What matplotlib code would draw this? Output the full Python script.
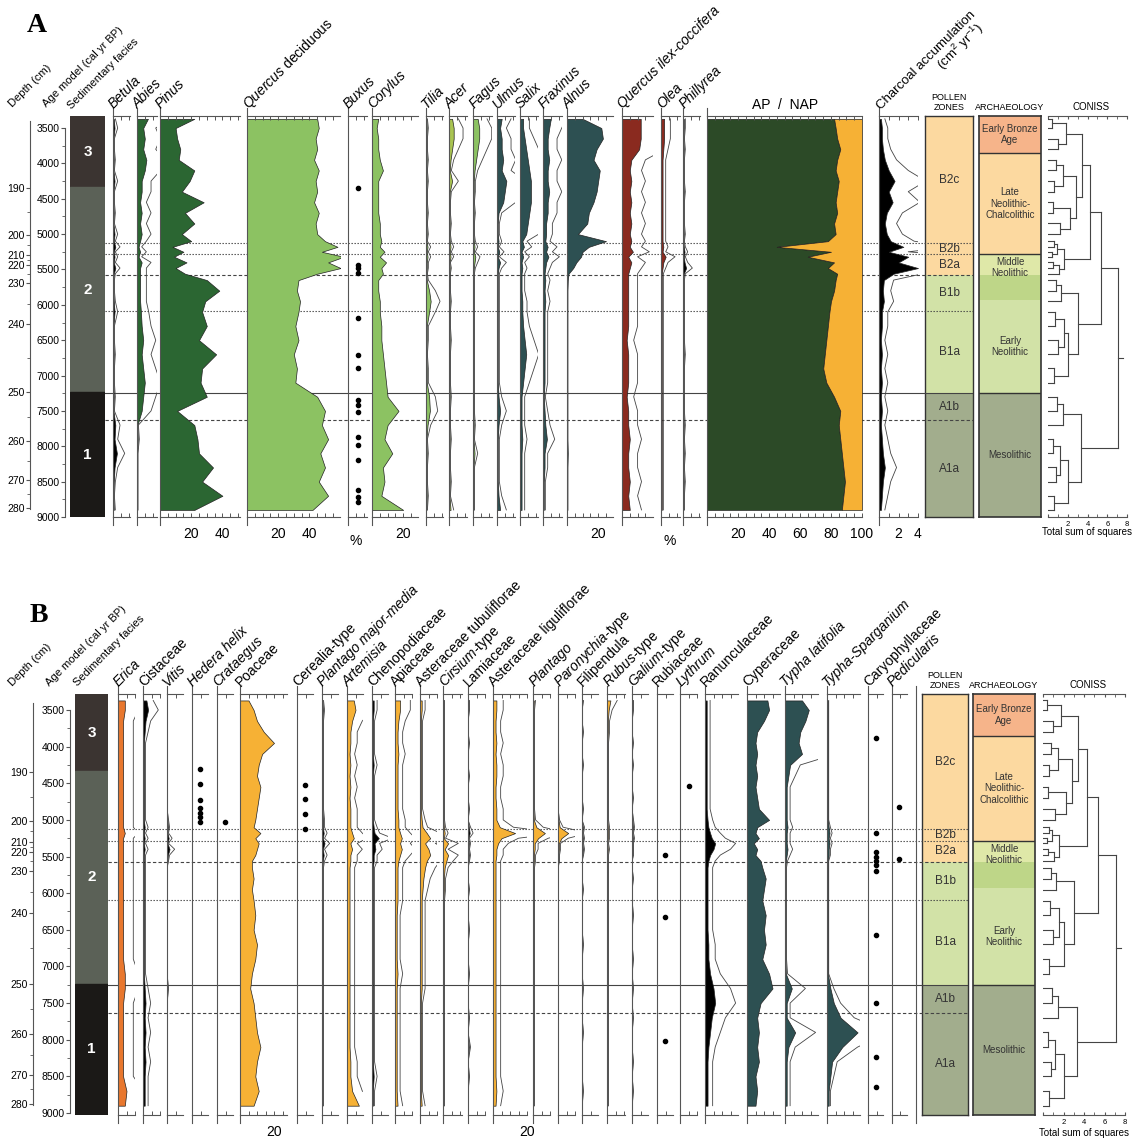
import numpy as np
import matplotlib.pyplot as plt
from matplotlib.lines import Line2D

plt.rcParams['font.family'] = ['Liberation Sans', 'DejaVu Sans']
plt.rcParams['mathtext.fontset'] = 'custom'
plt.rcParams['mathtext.rm'] = 'Liberation Sans'
plt.rcParams['mathtext.it'] = 'Liberation Sans:italic'

# ---------------- data (ages in cal yr BP) ----------------
ages = [3370, 3500, 3650, 3800, 3950, 4100, 4250, 4400, 4550, 4700,
        4850, 5000, 5100, 5180, 5250, 5320, 5400, 5480, 5560, 5650,
        5800, 5950, 6100, 6300, 6500, 6700, 6900, 7100, 7300, 7500,
        7700, 7900, 8100, 8300, 8500, 8700, 8900]

depth_cm = [190, 200, 210, 220, 230, 240, 250, 260, 270, 280]
depth_age = [4349, 5013, 5300, 5440, 5692, 6272, 7234, 7927, 8479, 8875]

facies_names = ['3', '2', '1']
facies_bounds = [4334, 7234]

zone_names = ['B2c', 'B2b', 'B2a', 'B1b', 'B1a', 'A1b', 'A1a']
zone_bounds = [5127, 5282, 5580, 6088, 7250, 7630]

arch_names = ['Early Bronze\nAge', 'Late\nNeolithic-\nChalcolithic', 'Middle\nNeolithic',
              'Early\nNeolithic', 'Mesolithic']
arch_bounds = [3854, 5282, 5933, 7250]

# panel A
betula = [0.5, 1.0, 0.3, 0.3, 0.5, 0.3, 1.0, 0.3, 0.3, 0.5,
          0.3, 1.0, 0.5, 1.5, 0.5, 1.0, 0.5, 1.5, 0.5, 0.3,
          0.3, 0.5, 1.0, 0.3, 0.3, 0.5, 0.3, 0.3, 0.5, 0.3,
          1.5, 1.0, 2.5, 1.0, 0.5, 0.3, 0.5]
abies = [7, 4, 5, 4, 6, 5, 3, 3, 2, 3,
         2, 3, 2, 1, 2, 1, 3, 2, 2, 2,
         2, 2, 2.5, 3, 4, 3, 4, 5, 4, 3,
         0.3, 0.5, 0.2, 0.2, 0.2, 0.2, 0.2]
pinus = [22, 10, 11, 13, 12, 22, 19, 14, 28, 16,
         22, 14, 20, 8, 15, 9, 17, 10, 16, 30,
         38, 29, 27, 30, 25, 36, 27, 26, 30, 11,
         22, 24, 25, 34, 27, 40, 22]
quercus = [45, 46, 44, 45, 43, 46, 44, 45, 43, 46,
           44, 45, 50, 58, 48, 62, 52, 60, 45, 33,
           32, 34, 33, 31, 33, 30, 32, 31, 45, 50,
           48, 52, 47, 50, 46, 52, 42]
buxus_ages = [4353, 5438, 5485, 5555, 6192, 6711, 6899, 7347, 7418, 7512,
              7866, 7984, 8196, 8620, 8715, 8786]
corylus = [4, 3, 4, 4, 5, 7, 4, 4, 4, 4,
           5, 5, 6, 5, 8, 5, 9, 6, 7, 4,
           4, 5, 5, 6, 6, 7, 8, 9, 10, 17,
           10, 8, 13, 7, 8, 6, 20]
tilia = [0.3, 0.5, 0.3, 0.3, 0.5, 0.3, 0.5, 0.3, 0.3, 0.5,
         0.3, 0.5, 0.3, 1.0, 0.5, 1.0, 0.5, 0.5, 0.3, 0.5,
         2.0, 3.0, 2.0, 0.5, 0.5, 0.3, 0.5, 0.5, 2.0, 2.5,
         1.0, 0.3, 0.5, 0.3, 0.3, 0.5, 0.3]
acer = [2, 3, 3, 2, 1, 0.5, 2, 0.5, 0.3, 0.3,
        0.5, 0.3, 0.5, 1, 0.5, 1, 0.3, 0.5, 0.3, 0.3,
        0.3, 0.5, 0.3, 0.3, 0.5, 0.3, 0.3, 0.3, 0.5, 0.3,
        0.3, 0.5, 0.3, 0.3, 0.5, 0.3, 1]
fagus = [3, 4, 4, 3, 2, 1, 0.5, 0.5, 0.3, 0.5,
         0.3, 0.3, 0.5, 1, 0.5, 1.5, 1, 0.5, 0.3, 0.3,
         0.3, 0.3, 0.3, 0.3, 0.3, 0.3, 0.3, 0.3, 0.3, 0.3,
         0.5, 0.3, 1, 0.3, 0.3, 0.3, 0.3]
ulmus = [3, 2, 3, 3, 4, 3, 6, 5, 4, 1,
         0.5, 0.5, 1, 0.5, 1.5, 0.5, 2, 1, 0.5, 0.5,
         0.5, 0.5, 0.5, 0.5, 0.5, 0.5, 0.5, 0.5, 1, 2,
         1, 0.5, 0.5, 0.5, 0.5, 1, 2]
salix = [2, 2, 3, 4, 5, 6, 7, 7, 7, 6,
         5, 4, 1.5, 2.5, 1, 2, 1, 1.5, 1, 1,
         1, 1.5, 1.5, 2, 3, 4, 3, 2, 1, 1,
         1, 1.5, 1, 1, 1, 1, 1]
fraxinus = [5, 4, 3, 3, 4, 3, 3, 4, 3, 3,
            2, 2, 1.5, 3, 2, 3.5, 2, 1.5, 1, 1.5,
            1, 1.5, 1, 1, 1, 1, 1, 1, 0.5, 1,
            1.5, 2.5, 1, 1, 0.5, 0.5, 0.5]
alnus = [10, 22, 23, 19, 17, 21, 20, 19, 17, 14,
         13, 7, 25, 14, 10, 9, 6, 4, 1, 0.5,
         0.3, 0.3, 0.3, 0.3, 0.3, 0.3, 0.3, 0.3, 0.3, 0.3,
         0.3, 0.3, 0.5, 0.3, 0.3, 0.3, 0.3]
qilex = [12, 12, 12, 11, 6, 5, 6, 5, 6, 5,
         6, 5, 6, 5, 7, 4, 6, 5, 4, 4,
         4, 4, 4, 4, 3, 4, 4, 4, 3, 4,
         4, 5, 4, 4, 5, 4, 5]
olea = [2, 2, 2, 1.5, 1, 1, 1, 1, 1, 1,
        1, 1, 1, 1.5, 1, 3, 1.5, 1, 0.5, 0.5,
        0.5, 0.5, 0.5, 0.5, 0.5, 0.5, 0.5, 0.5, 0.5, 0.5,
        0.5, 0.5, 0.5, 0.5, 0.5, 0.5, 0.5]
phillyrea = [0.5, 0.5, 0.3, 0.5, 0.3, 0.3, 0.3, 0.5, 0.3, 0.3,
             0.3, 0.5, 0.3, 0.5, 1, 0.5, 1, 2, 0.5, 0.3,
             0.3, 0.3, 0.3, 0.3, 0.3, 0.5, 0.3, 0.3, 0.3, 0.3,
             0.5, 0.3, 0.5, 0.3, 0.5, 0.3, 0.3]
ap = [82, 83, 84, 86, 84, 83, 85, 84, 83, 84,
      82, 83, 78, 45, 80, 65, 82, 78, 84, 83,
      82, 80, 79, 78, 77, 76, 75, 77, 82, 86,
      85, 86, 87, 88, 89, 88, 87]
charcoal = [0.2, 0.3, 0.3, 0.4, 0.6, 1.0, 1.6, 1.0, 1.4, 0.8,
            0.6, 0.8, 1.2, 2.5, 1.0, 3.0, 2.0, 4.0, 1.5, 0.5,
            0.4, 0.5, 0.3, 0.3, 0.2, 0.3, 0.2, 0.3, 0.2, 0.3,
            0.2, 0.3, 0.4, 0.6, 0.4, 0.3, 0.2]

# panel B
erica = [4, 4, 3, 3, 3, 3, 3, 3, 3, 3,
         3, 3, 3, 4, 3, 3, 3, 3, 3, 3,
         3, 3, 3, 3, 3, 3, 3, 4, 4, 3,
         3, 3, 3, 3, 3, 5, 4]
cistaceae = [2, 3, 1.5, 1, 0.5, 0.5, 0.5, 0.5, 0.5, 0.5,
             0.5, 0.5, 1, 0.5, 1, 0.5, 1, 0.5, 0.5, 0.5,
             0.5, 0.5, 0.5, 0.5, 0.5, 0.5, 0.5, 0.5, 1, 1.5,
             1, 1.5, 1, 1.5, 1, 1, 1]
vitis = [0, 0, 0, 0, 0, 0, 0, 0, 0, 0,
         0, 0.3, 0.5, 0.3, 1, 0.3, 1.5, 0.5, 0.3, 0,
         0, 0, 0, 0, 0, 0, 0, 0, 0.3, 0,
         0, 0, 0, 0, 0, 0, 0]
hedera_ages = [4310, 4510, 4730, 4840, 4910, 4960, 5030]
crataegus_ages = [5030]
poaceae = [5, 8, 10, 14, 20, 13, 11, 10, 12, 11,
           10, 9, 8, 12, 9, 11, 10, 9, 7, 7,
           8, 7, 8, 9, 8, 10, 9, 7, 6, 8,
           9, 10, 12, 10, 9, 11, 8]
cerealia_ages = [4520, 4720, 4920, 5120]
plantago_mm = [0.3, 0.5, 0.3, 0.3, 0.3, 0.3, 0.3, 0.3, 0.3, 0.3,
               0.3, 0.5, 0.5, 1, 0.5, 1.5, 0.5, 1, 0.5, 0.3,
               0.3, 0.3, 0.3, 0.3, 0.3, 0.3, 0.3, 0.3, 0.3, 0.3,
               0.3, 0.3, 0.3, 0.3, 0.3, 0.3, 0.3]
artemisia = [4, 5, 3, 2, 2, 1.5, 2, 1.5, 2, 1.5,
             2, 2, 2, 3, 4, 2, 3, 2, 2, 1.5,
             1.5, 1.5, 1.5, 1.5, 1.5, 1.5, 1.5, 1.5, 1.5, 1.5,
             1.5, 1.5, 1.5, 2, 2, 3, 7]
cheno = [1, 1, 0.5, 0.5, 0.5, 0.5, 1, 0.5, 0.5, 0.5,
         0.5, 0.5, 1, 1.5, 4, 1.5, 2, 1, 1, 0.5,
         0.5, 0.5, 0.5, 0.5, 0.5, 0.5, 0.5, 0.5, 0.5, 0.5,
         0.5, 0.5, 0.5, 0.5, 1, 0.5, 0.5]
apiaceae = [3, 3, 2, 1.5, 1.5, 2, 1.5, 1.5, 1.5, 1.5,
            1.5, 2, 2, 3, 4, 3, 4, 3, 2, 1.5,
            1.5, 1.5, 1.5, 1, 1, 1, 1, 1.5, 1, 1,
            1, 1, 1, 1, 1, 1, 1.5]
ast_tub = [1, 1, 0.5, 0.5, 0.5, 0.5, 0.5, 0.5, 0.5, 0.5,
           0.5, 1, 1.5, 4, 6, 3, 5, 6, 4, 3,
           2, 1.5, 1, 1, 1, 1, 1, 1, 1, 0.5,
           0.5, 0.5, 0.5, 0.5, 0.5, 0.5, 1]
cirsium = [0.3, 0.3, 0.3, 0.3, 0.3, 0.3, 0.3, 0.3, 0.3, 0.3,
           0.3, 0.3, 0.5, 1, 0.5, 3, 1, 3, 2, 1,
           0.5, 0.5, 0.3, 0.3, 0.3, 0.3, 0.3, 0.3, 0.3, 0.3,
           0.3, 0.3, 0.3, 0.3, 0.3, 0.3, 0.3]
lamiaceae = [0.3, 0.3, 0, 0, 0.3, 0, 0, 0.3, 0, 0,
             0.3, 0, 0.5, 1, 0.3, 0.5, 0.3, 0.5, 0.3, 0,
             0, 0.3, 0, 0, 0.3, 0, 0, 0.3, 0, 0,
             0.3, 0, 0.5, 0, 0.3, 0, 0]
ast_lig = [2, 2, 1.5, 1.5, 2, 1.5, 2, 2, 1.5, 1.5,
           2, 2, 4, 13, 5, 3, 2, 2, 1.5, 1.5,
           1.5, 1.5, 1.5, 1.5, 1.5, 1.5, 1.5, 1.5, 1.5, 1.5,
           1.5, 1.5, 1.5, 1.5, 1.5, 2, 1.5]
plantago = [0.5, 0.3, 0.3, 0.3, 0.3, 0.3, 0.3, 0.3, 0.3, 0.3,
            0.3, 0.5, 2, 7, 3, 1, 1, 0.5, 0.5, 0.3,
            0.3, 0.3, 0.3, 0.3, 0.3, 0.3, 0.3, 0.3, 0.3, 0.3,
            0.3, 0.3, 0.3, 0.3, 0.3, 0.3, 0.3]
paronychia = [0, 0, 0, 0, 0, 0, 0, 0, 0, 0,
              0, 0.3, 1, 6, 2, 0.5, 0.5, 0.3, 0.3, 0,
              0, 0, 0, 0, 0, 0, 0, 0, 0, 0,
              0, 0, 0, 0, 0, 0, 0]
filipendula = [0.3, 0, 0, 0.3, 0, 0, 0.3, 0, 0, 0,
               0.3, 0, 0.5, 0.3, 0.5, 0.3, 0.5, 0.3, 0, 0,
               0, 0.3, 0, 0, 0, 0.3, 0, 0, 0.3, 0,
               0, 0.3, 0, 0, 0, 0.3, 0]
rubus = [2, 1, 0.5, 0.5, 0.3, 0.3, 0.3, 0.3, 0.3, 0.3,
         0.3, 0.3, 0.5, 0.5, 0.5, 0.3, 0.5, 0.3, 0.3, 0.3,
         0.3, 0.3, 0.3, 0.3, 0.3, 0.3, 0.3, 0.3, 0.3, 0.3,
         0.3, 0.3, 0.3, 0.3, 0.3, 0.3, 0.3]
galium = [0.3, 0.3, 0, 0, 0.3, 0, 0.3, 0, 0, 0.3,
          0, 0.3, 0.5, 0.3, 0.5, 0.3, 0.3, 0.3, 0, 0,
          0.3, 0, 0, 0.3, 0, 0, 0.3, 0, 0.3, 0,
          0.3, 0, 0, 0.3, 0, 0.3, 0]
rubiaceae_ages = [5484, 6330, 8014]
lythrum_ages = [4540]
ranunculaceae = [1, 1, 1, 1, 1, 1, 1, 1, 1, 1,
                 1, 1.5, 2, 3, 4, 6, 5, 3, 2, 1.5,
                 1.5, 1.5, 1.5, 1.5, 1.5, 2, 2, 3, 5, 6,
                 4, 3, 2, 1.5, 1.5, 1.5, 1.5]
cyperaceae = [12, 13, 10, 6, 5, 6, 5, 6, 5, 6,
              7, 13, 6, 5, 7, 4, 6, 5, 8, 9,
              11, 10, 9, 11, 10, 11, 9, 13, 15, 8,
              6, 7, 6, 7, 5, 6, 5]
typha_lat = [10, 14, 12, 9, 8, 10, 3, 2, 1, 1,
             1, 1, 1.5, 1, 1, 1, 1.5, 1, 0.5, 0.3,
             0.3, 0.3, 0.3, 0.3, 0.3, 0.3, 0.3, 0.5, 4, 1,
             1, 6, 2, 1, 1, 1, 1]
typha_sp = [0.5, 0.5, 0.5, 0.5, 0.5, 0.5, 0.5, 0.5, 0.5, 0.5,
            0.5, 0.5, 1, 1.5, 1, 1.5, 1, 1, 0.5, 0.5,
            0.5, 0.5, 0.5, 0.5, 0.5, 0.5, 0.5, 0.5, 2, 4,
            8, 18, 9, 3, 2, 1, 1]
caryo_ages = [3880, 5180, 5440, 5500, 5560, 5620, 5700, 6570, 7500, 8240, 8650]
pedicularis_ages = [4830, 5530]

# CONISS tree: (height, left, right), leaves are indices into ages
coniss_tree = (7.1,
               (5.4,
                (4.3,
                 (3.4, (1.8, (0.4, 0, 1), (1.0, 2, 3)),
                  (2.8, (1.5, (0.8, 4, 5), (0.6, 6, 7)), (2.2, (0.5, 8, 9), (1.2, 10, 11)))),
                 (1.6, (0.9, (0.6, 12, 13), (0.4, 14, 15)), (1.1, (0.5, 16, 17), 18))),
                (3.0, (1.3, (0.8, 19, 20), 21),
                 (2.0, (1.6, (0.7, 22, 23), (1.0, 24, 25)), (0.6, 26, 27)))),
               (3.3, (1.5, (0.9, 28, 29), 30),
                (2.0, (1.2, (0.5, 31, 32), (0.8, 33, 34)), (0.6, 35, 36))))

# ---------------- styling ----------------
W, H = 1148, 1142
fig = plt.figure(figsize=(W / 100, H / 100), dpi=100)
fig.patch.set_facecolor('white')

LINE = '#555555'
DKGREEN = '#2b6632'
LTGREEN = '#8cc262'
ACER_C = '#a9c451'
TEAL = '#2d5052'
RED = '#8a2a1f'
ORANGE = '#f6b135'
ERICA_C = '#e8772e'
AP_C = '#2c4a27'
zone_colors = ['#fcd9a0', '#fcd9a0', '#fcd9a0', '#d2e2a7', '#d2e2a7', '#a2ad8d', '#a2ad8d']
arch_colors = ['#f6b48a', '#fcd9a0', '#dfe8a8', '#d2e2a7', '#a2ad8d']
facies_colors = ['#3b3431', '#5b6157', '#1b1917']

PA = dict(top=116, bot=517, age_top=3330, age_bot=9000, scale=1.56,
          depth_x=30, age_x=65, fac=(70, 105), lines=(105, 973), zones=(925, 973),
          arch=(979, 1041), coniss=(1048, 1127), letter=(27, 32, 'A'),
          hdr=[(13, 108), (47, 108), (72, 110)], sos=535)
PB = dict(top=694, bot=1115, age_top=3282, age_bot=9027, scale=1.70,
          depth_x=33, age_x=70, fac=(75, 108), lines=(108, 968), zones=(922, 968),
          arch=(973, 1035), coniss=(1043, 1125), letter=(30, 622, 'B'),
          hdr=[(13, 687), (50, 687), (78, 687)], sos=1136)


def fx(x):
    return x / W


def fy(y):
    return 1 - y / H


def add_ax(x0, x1, y0, y1, z=3):
    ax = fig.add_axes([fx(x0), fy(y1), (x1 - x0) / W, (y1 - y0) / H])
    ax.set_zorder(z)
    ax.patch.set_visible(False)
    return ax


def vline(x, y0, y1, color=LINE, lw=0.8):
    fig.add_artist(Line2D([fx(x), fx(x)], [fy(y0), fy(y1)], color=color, lw=lw))


def column(p, x0, x1, label, vals=None, color='k', exag=3, dots=None,
           ticklabels=(), style='italic', xmax=None, step=5):
    ax = add_ax(x0, x1, p['top'], p['bot'])
    if xmax is None:
        xmax = (x1 - x0) / p['scale']
    ax.set_xlim(0, xmax)
    ax.set_ylim(p['age_bot'], p['age_top'])
    ax.spines['right'].set_visible(False)
    for s in ('left', 'top', 'bottom'):
        ax.spines[s].set_color(LINE)
        ax.spines[s].set_linewidth(0.8)
    ax.set_yticks([])
    ticks = np.arange(0, xmax + 0.01, step)
    ax.set_xticks(ticks)
    ax.set_xticklabels([('%g' % t) if round(t) in ticklabels else '' for t in ticks])
    ax.tick_params(axis='x', direction='in', top=True, bottom=True, length=3,
                   width=0.7, color=LINE, labelsize=10, pad=7)
    if vals is not None:
        v = np.array(vals, dtype=float)
        if exag:
            ax.plot(v * exag, ages, color='#444444', lw=0.6)
        ax.fill_betweenx(ages, 0, v, facecolor=color, edgecolor='#222222', lw=0.5)
    if dots is not None:
        ax.scatter([xmax / 2] * len(dots), dots, s=9, color='k', zorder=5)
    vline(x0, p['top'] - 8, p['top'])
    vline(x0, p['bot'], p['bot'] + 8)
    if label:
        fig.text(fx(x0 + 1), fy(p['top'] - 7), label, rotation=45, rotation_mode='anchor',
                 ha='left', va='baseline', fontsize=10, style=style)
    return ax


def draw_tree(ax, node):
    if isinstance(node, int):
        return ages[node], 0.0
    h, left, right = node
    yl, hl = draw_tree(ax, left)
    yr, hr = draw_tree(ax, right)
    kw = dict(color='#444444', lw=0.8)
    ax.plot([hl, h], [yl, yl], **kw)
    ax.plot([hr, h], [yr, yr], **kw)
    ax.plot([h, h], [yl, yr], **kw)
    return (yl + yr) / 2, h


def frame(p):
    top, bot = p['top'], p['bot']
    ylim = (p['age_bot'], p['age_top'])
    a_top, a_bot = p['age_top'], p['age_bot']

    # panel letter
    lx, ly, lt = p['letter']
    fig.text(fx(lx), fy(ly), lt, fontsize=20, fontweight='bold',
             family='Liberation Serif', ha='left', va='baseline')

    # header labels
    for (hx, hy), t in zip(p['hdr'], ['Depth (cm)', 'Age model (cal yr BP)', 'Sedimentary facies']):
        fig.text(fx(hx), fy(hy), t, rotation=45, rotation_mode='anchor',
                 ha='left', va='baseline', fontsize=8)

    # depth axis
    ax = add_ax(p['depth_x'], p['depth_x'] + 1, top, bot)
    ax.set_ylim(*ylim)
    for s in ('right', 'top', 'bottom'):
        ax.spines[s].set_visible(False)
    ax.spines['left'].set_color(LINE)
    ax.spines['left'].set_bounds(3400, 8890)
    ax.set_xticks([])
    ax.set_yticks(depth_age)
    ax.set_yticklabels([str(d) for d in depth_cm])
    minor = np.interp(np.arange(195, 280, 10), depth_cm, depth_age)
    ax.set_yticks(minor, minor=True)
    ax.tick_params(axis='y', which='major', length=3, color=LINE, labelsize=7.5, pad=1)
    ax.tick_params(axis='y', which='minor', length=2, color=LINE)

    # age axis
    ax = add_ax(p['age_x'], p['age_x'] + 1, top, bot)
    ax.set_ylim(*ylim)
    for s in ('right', 'top', 'bottom'):
        ax.spines[s].set_visible(False)
    ax.spines['left'].set_color(LINE)
    ax.spines['left'].set_bounds(3500, 9000)
    ax.set_xticks([])
    ax.set_yticks(np.arange(3500, 9001, 500))
    ax.set_yticks(np.arange(3500, 9001, 250), minor=True)
    ax.tick_params(axis='y', which='major', length=3, color=LINE, labelsize=7.5, pad=1)
    ax.tick_params(axis='y', which='minor', length=2, color=LINE)

    # facies
    f0, f1 = p['fac']
    ax = add_ax(f0, f1, top, bot)
    ax.set_ylim(*ylim)
    ax.axis('off')
    edges = [a_top] + facies_bounds + [a_bot]
    for i, name in enumerate(facies_names):
        ax.axhspan(edges[i], edges[i + 1], color=facies_colors[i])
        ax.text(0.5, (edges[i] + edges[i + 1]) / 2, name, color='white', fontsize=11,
                fontweight='bold', ha='center', va='center', transform=ax.get_yaxis_transform())

    # zone lines across the diagram
    l0, l1 = p['lines']
    ax = add_ax(l0, l1, top, bot, z=1)
    ax.set_ylim(*ylim)
    ax.axis('off')
    styles = [(0, (1.2, 1.5)), (0, (1.2, 1.5)), (0, (3, 2)), (0, (1.2, 1.5)), '-', (0, (3, 2))]
    for b, ls in zip(zone_bounds, styles):
        ax.axhline(b, color='#444444', lw=0.8, ls=ls)

    # pollen zones
    z0, z1 = p['zones']
    ax = add_ax(z0, z1, top, bot, z=0)
    ax.set_ylim(*ylim)
    ax.set_xlim(0, 1)
    ax.set_xticks([])
    ax.set_yticks([])
    for s in ax.spines.values():
        s.set_color('#333333')
        s.set_linewidth(1.0)
    edges = [a_top] + zone_bounds + [a_bot]
    for i, name in enumerate(zone_names):
        ax.axhspan(edges[i], edges[i + 1], color=zone_colors[i], lw=0)
        ax.text(0.5, (edges[i] + edges[i + 1]) / 2, name, fontsize=8.5, color='#333333',
                ha='center', va='center')
    fig.text(fx((z0 + z1) / 2), fy(top - 6), 'POLLEN\nZONES', fontsize=6.5,
             ha='center', va='baseline', linespacing=1.1)

    # archaeology
    a0, a1 = p['arch']
    ax = add_ax(a0, a1, top, bot, z=0)
    ax.set_ylim(*ylim)
    ax.set_xlim(0, 1)
    ax.set_xticks([])
    ax.set_yticks([])
    for s in ax.spines.values():
        s.set_color('#333333')
        s.set_linewidth(1.2)
    edges = [a_top] + arch_bounds + [a_bot]
    for i, name in enumerate(arch_names):
        ax.axhspan(edges[i], edges[i + 1], color=arch_colors[i], lw=0)
        mid = (edges[i] + edges[i + 1]) / 2
        if i == 2:
            ax.axhspan(zone_bounds[2], edges[i + 1], color='#bed688', lw=0)
            mid = (edges[i] + zone_bounds[2]) / 2 + 40
        ax.text(0.5, mid, name, fontsize=7, color='#333333', ha='center', va='center',
                linespacing=1.2)
    for b in (arch_bounds[0], arch_bounds[1], arch_bounds[3]):
        ax.axhline(b, color='#333333', lw=1.0)
    fig.text(fx((a0 + a1) / 2), fy(top - 6), 'ARCHAEOLOGY', fontsize=6.5,
             ha='center', va='baseline')

    # CONISS
    c0, c1 = p['coniss']
    ax = add_ax(c0, c1, top, bot)
    ax.set_ylim(*ylim)
    ax.set_xlim(0, 8)
    ax.spines['left'].set_visible(False)
    ax.spines['right'].set_visible(False)
    ax.spines['top'].set_color(LINE)
    ax.spines['bottom'].set_color(LINE)
    ax.set_yticks([])
    ax.set_xticks([0, 2, 4, 6, 8])
    ax.set_xticklabels(['', '2', '4', '6', '8'])
    ax.set_xticks(np.arange(1, 8, 2), minor=True)
    ax.tick_params(axis='x', which='both', direction='in', top=True, bottom=True,
                   length=2.5, color=LINE, labelsize=5.5, pad=3)
    ry, rh = draw_tree(ax, coniss_tree)
    ax.plot([rh, 7.6], [ry, ry], color='#444444', lw=0.8)
    fig.text(fx((c0 + c1) / 2 + 4), fy(top - 6), 'CONISS', fontsize=7,
             ha='center', va='baseline')
    fig.text(fx((c0 + c1) / 2), fy(p['sos']), 'Total sum of squares', fontsize=7,
             ha='center', va='baseline')


# ---------------- panel A ----------------
frame(PA)
column(PA, 113, 130, 'Betula', betula, 'k')
column(PA, 137, 157, 'Abies', abies, DKGREEN)
column(PA, 160, 240, 'Pinus', pinus, DKGREEN, exag=0, ticklabels=(20, 40))
column(PA, 247, 340, r'$\mathit{Quercus}$ deciduous', quercus, LTGREEN, exag=0,
       ticklabels=(20, 40, 60), style='normal')
column(PA, 348, 367, 'Buxus', dots=buxus_ages)
column(PA, 372, 418, 'Corylus', corylus, LTGREEN, exag=0, ticklabels=(20,))
column(PA, 426, 443, 'Tilia', tilia, LTGREEN)
column(PA, 449, 467, 'Acer', acer, ACER_C)
column(PA, 473, 492, 'Fagus', fagus, LTGREEN)
column(PA, 497, 515, 'Ulmus', ulmus, TEAL)
column(PA, 520, 538, 'Salix', salix, TEAL)
column(PA, 543, 562, 'Fraxinus', fraxinus, TEAL)
column(PA, 567, 613, 'Alnus', alnus, TEAL, exag=0, ticklabels=(20,))
column(PA, 622, 653, 'Quercus ilex-coccifera', qilex, RED, exag=2.5, ticklabels=(20,))
column(PA, 661, 680, 'Olea', olea, RED)
column(PA, 683, 700, 'Phillyrea', phillyrea, 'k')
fig.text(fx(356), fy(545), '%', fontsize=10, ha='center', va='baseline')
fig.text(fx(670), fy(545), '%', fontsize=10, ha='center', va='baseline')

ax = column(PA, 707, 862, '', None, xmax=100, ticklabels=(20, 40, 60, 80, 100))
ax.fill_betweenx(ages, 0, ap, facecolor=AP_C, edgecolor='#222222', lw=0.5)
ax.fill_betweenx(ages, ap, 100, facecolor=ORANGE, edgecolor='#222222', lw=0.5)
fig.text(fx(785), fy(109), 'AP  /  NAP', fontsize=10, ha='center', va='baseline')

column(PA, 879, 918, '', charcoal, 'k', exag=3, xmax=4.0, step=1, ticklabels=(2, 4))
fig.text(fx(881), fy(110), 'Charcoal accumulation', rotation=45, rotation_mode='anchor',
         ha='left', va='baseline', fontsize=9.5)
fig.text(fx(942), fy(70), '(cm$^{2}$ yr$^{-1}$)', rotation=45, rotation_mode='anchor',
         ha='left', va='baseline', fontsize=9.5)

# ---------------- panel B ----------------
frame(PB)
column(PB, 118, 135, 'Erica', erica, ERICA_C)
column(PB, 143, 160, 'Cistaceae', cistaceae, 'k', style='normal')
column(PB, 167, 183, 'Vitis', vitis, 'k')
column(PB, 192, 208, 'Hedera helix', dots=hedera_ages)
column(PB, 217, 233, 'Crataegus', dots=crataegus_ages)
column(PB, 240, 287, 'Poaceae', poaceae, ORANGE, exag=0, ticklabels=(20,), style='normal')
column(PB, 297, 313, 'Cerealia-type', dots=cerealia_ages, style='normal')
column(PB, 322, 338, 'Plantago major-media', plantago_mm, 'k')
column(PB, 347, 363, 'Artemisia', artemisia, ORANGE)
column(PB, 372, 388, 'Chenopodiaceae', cheno, 'k', style='normal')
column(PB, 395, 412, 'Apiaceae', apiaceae, ORANGE, style='normal')
column(PB, 420, 437, 'Asteraceae tubuliflorae', ast_tub, ORANGE, style='normal')
column(PB, 443, 462, r'$\mathit{Cirsium}$-type', cirsium, ORANGE, style='normal')
column(PB, 468, 485, 'Lamiaceae', lamiaceae, 'k', style='normal')
column(PB, 493, 527, 'Asteraceae liguliflorae', ast_lig, ORANGE, ticklabels=(20,), style='normal')
column(PB, 533, 550, 'Plantago', plantago, ORANGE)
column(PB, 558, 575, r'$\mathit{Paronychia}$-type', paronychia, ORANGE, style='normal')
column(PB, 582, 598, 'Filipendula', filipendula, 'k', style='normal')
column(PB, 607, 625, r'$\mathit{Rubus}$-type', rubus, ORANGE, style='normal')
column(PB, 632, 648, r'$\mathit{Galium}$-type', galium, 'k', style='normal')
column(PB, 657, 673, 'Rubiaceae', dots=rubiaceae_ages, style='normal')
column(PB, 680, 697, 'Lythrum', dots=lythrum_ages)
column(PB, 705, 738, 'Ranunculaceae', ranunculaceae, 'k', ticklabels=(20,), style='normal')
column(PB, 747, 780, 'Cyperaceae', cyperaceae, TEAL, exag=0, ticklabels=(20,), style='normal')
column(PB, 785, 818, 'Typha latifolia', typha_lat, TEAL, ticklabels=(20,))
column(PB, 827, 860, 'Typha-Sparganium', typha_sp, TEAL, exag=2, ticklabels=(20,))
column(PB, 868, 883, 'Caryophyllaceae', dots=caryo_ages, style='normal')
column(PB, 892, 907, 'Pedicularis', dots=pedicularis_ages)
vline(916, PB['top'] - 8, PB['bot'] + 8)

fig.savefig('out.png', dpi=100, facecolor='white')
